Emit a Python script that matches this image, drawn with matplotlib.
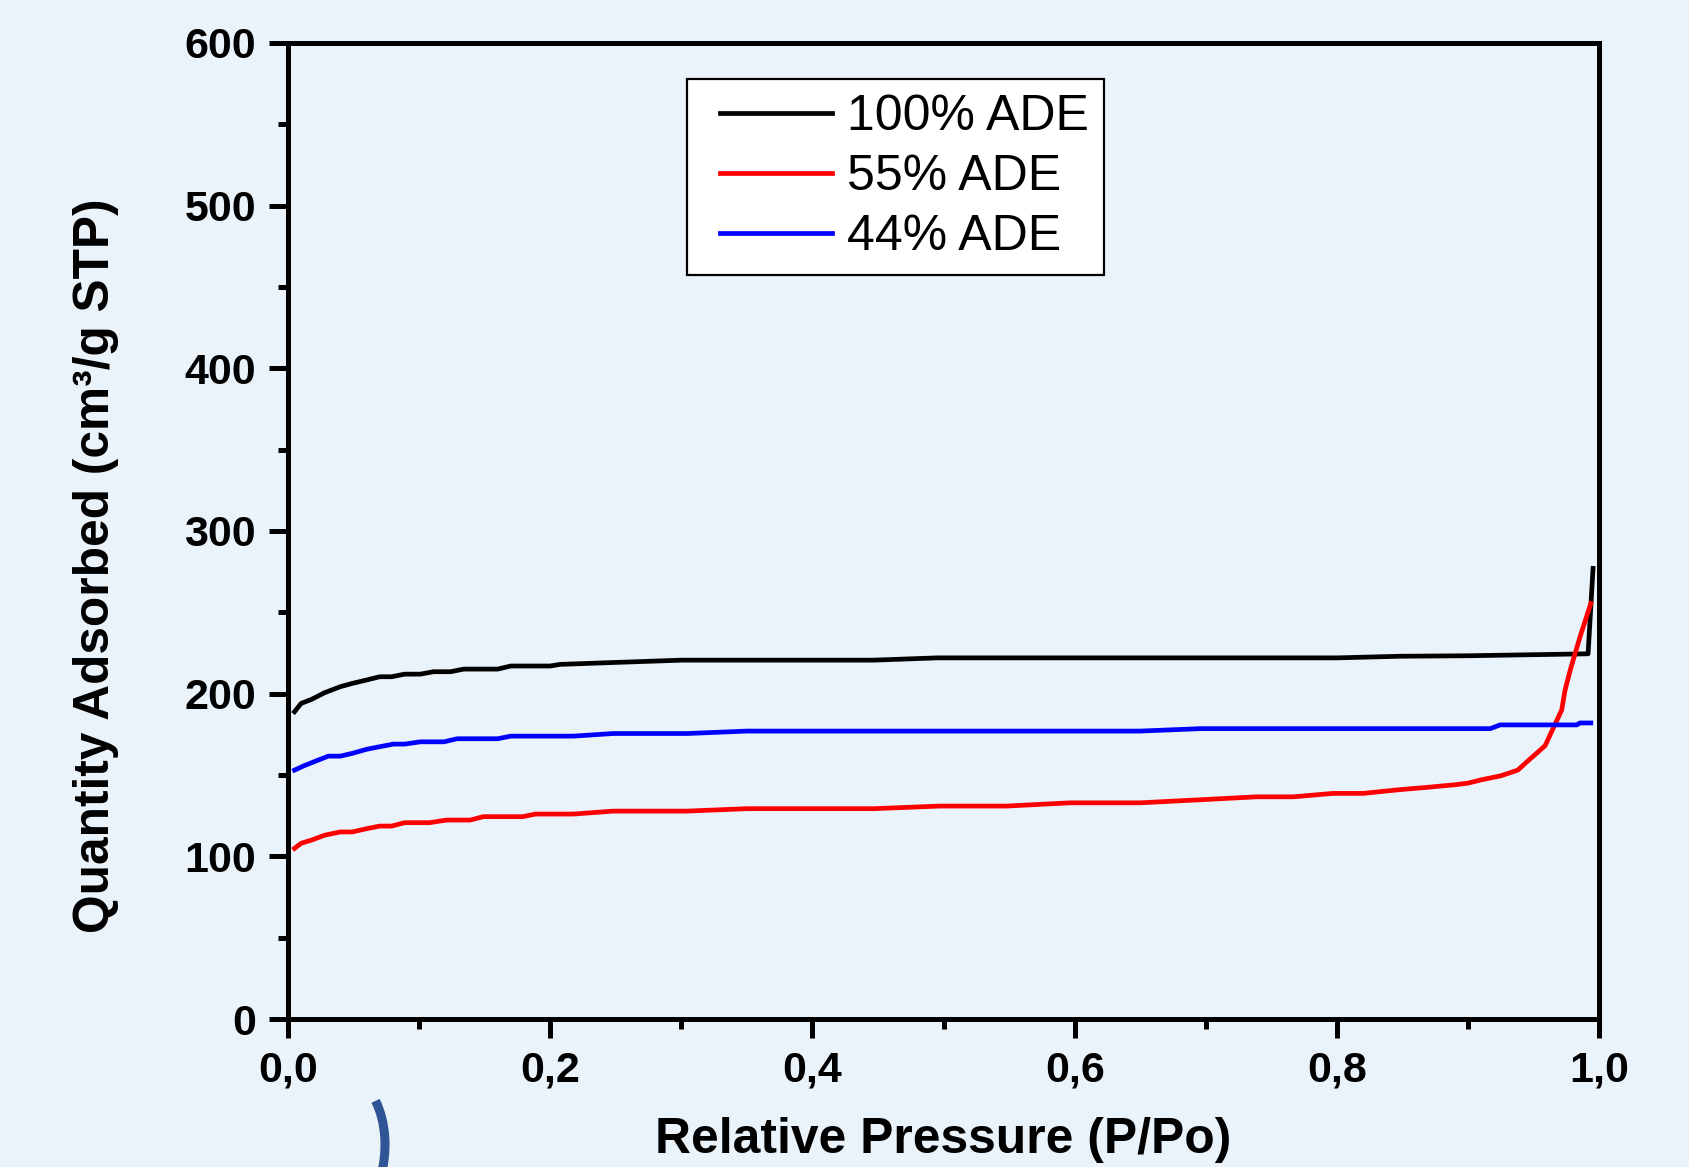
import matplotlib
matplotlib.use("Agg")
import matplotlib.pyplot as plt
from matplotlib.ticker import MultipleLocator, FuncFormatter
from matplotlib.patches import Arc
from matplotlib.transforms import IdentityTransform
from matplotlib.legend_handler import HandlerLine2D
from matplotlib.lines import Line2D

plt.rcParams['font.family'] = ['Liberation Sans', 'DejaVu Sans']

# data
p_100 = [0.005, 0.010, 0.018, 0.028, 0.040, 0.049, 0.060, 0.070, 0.079, 0.089, 0.101,
         0.111, 0.124, 0.134, 0.160, 0.170, 0.200, 0.2075, 0.25, 0.30, 0.4465, 0.495,
         0.528, 0.80, 0.848, 0.90, 0.9916, 0.9954]
q_100 = [188.9, 194.0, 196.5, 200.6, 204.3, 206.3, 208.4, 210.4, 210.4, 212.0, 212.0,
         213.5, 213.5, 215.1, 215.1, 217.0, 217.0, 218.0, 219.2, 220.6, 220.6, 222.0,
         222.0, 222.0, 223.0, 223.3, 224.5, 277.0]

p_55 = [0.005, 0.010, 0.018, 0.028, 0.040, 0.049, 0.060, 0.070, 0.079, 0.089, 0.108,
        0.121, 0.139, 0.149, 0.179, 0.189, 0.2177, 0.248, 0.304, 0.350, 0.4465, 0.497,
        0.548, 0.5965, 0.65, 0.701, 0.739, 0.767, 0.797, 0.820, 0.848, 0.87, 0.89,
        0.90, 0.91, 0.925, 0.938, 0.9448, 0.9588, 0.9715, 0.974, 0.978, 0.9855, 0.9937]
q_55 = [104.9, 108.0, 110.0, 113.0, 115.0, 115.0, 117.0, 118.6, 118.6, 120.7, 120.7,
        122.3, 122.3, 124.4, 124.4, 126.0, 126.0, 127.8, 127.8, 129.3, 129.3, 130.9,
        130.9, 132.9, 132.9, 135.0, 136.6, 136.6, 138.7, 138.7, 141.0, 142.5, 144.0,
        145.0, 147.0, 149.5, 153.0, 158.0, 168.0, 190.0, 202.0, 214.5, 235.0, 255.5]

p_44 = [0.005, 0.0117, 0.0219, 0.0308, 0.040, 0.049, 0.060, 0.070, 0.0805, 0.089, 0.101,
        0.119, 0.129, 0.160, 0.170, 0.2177, 0.248, 0.304, 0.350, 0.650, 0.696, 0.917,
        0.9245, 0.983, 0.9855, 0.9937]
q_44 = [153.0, 155.5, 158.8, 161.6, 161.6, 163.3, 165.8, 167.4, 169.0, 169.0, 170.4,
        170.4, 172.3, 172.3, 173.9, 173.9, 175.5, 175.5, 177.0, 177.0, 178.5, 178.5,
        180.8, 180.8, 182.0, 182.0]

labels = ['100% ADE', '55% ADE', '44% ADE']
colors = ['black', '#FF0000', '#0000FF']

bg = '#EAF2FA'

fig = plt.figure(figsize=(16.9, 11.67), dpi=100, facecolor=bg)
ax = fig.add_axes([0.1704, 0.1268, 0.7758, 0.8364])
ax.set_facecolor(bg)

for p, q, lab, c in zip([p_100, p_55, p_44], [q_100, q_55, q_44], labels, colors):
    ax.plot(p, q, color=c, lw=3.4, label=lab)

ax.set_xlim(0, 1.0)
ax.set_ylim(0, 600)
ax.xaxis.set_major_locator(MultipleLocator(0.2))
ax.xaxis.set_minor_locator(MultipleLocator(0.1))
ax.yaxis.set_major_locator(MultipleLocator(100))
ax.yaxis.set_minor_locator(MultipleLocator(50))
ax.xaxis.set_major_formatter(FuncFormatter(lambda v, pos: f"{v:.1f}".replace('.', ',')))

for s in ax.spines.values():
    s.set_linewidth(3.6)
ax.tick_params(which='both', direction='out', width=3.6, top=False, right=False)
ax.tick_params(which='major', length=14, labelsize=31, pad=9)
ax.tick_params(which='minor', length=7)
for t in ax.get_xticklabels() + ax.get_yticklabels():
    t.set_fontweight('bold')

ax.set_xlabel('Relative Pressure (P/Po)', fontsize=35.8, fontweight='bold')
ax.set_ylabel('Quantity Adsorbed (cm³/g STP)', fontsize=35.7, fontweight='bold')
ax.xaxis.set_label_coords(0.5, -0.100)
ax.yaxis.set_label_coords(-0.129, 0.464)

leg = ax.legend(loc='upper left', bbox_to_anchor=(0.3043, 0.963), borderaxespad=0,
                fontsize=36, handlelength=2.6, handletextpad=0.3, borderpad=0.3,
                labelspacing=0.28, fancybox=False, framealpha=1, facecolor='white',
                edgecolor='black', handler_map={Line2D: HandlerLine2D(xpad=0.36)})
leg.get_frame().set_linewidth(1.6)

# decorative blue arc below the axis
fig.add_artist(Arc((353, 22), 64, 124, theta1=-50, theta2=63, color='#2F5597', lw=6.5,
                   transform=IdentityTransform()))

fig.savefig('out.png', dpi=100, facecolor=bg)
